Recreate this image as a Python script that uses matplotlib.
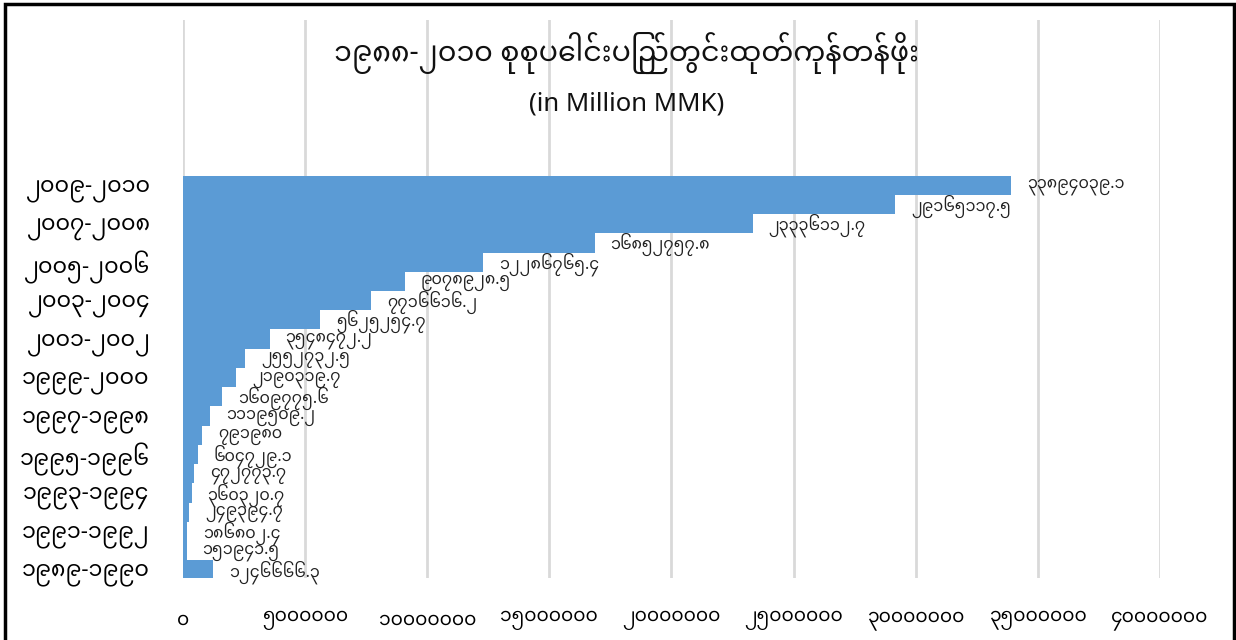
import matplotlib
matplotlib.use("Agg")
import matplotlib.pyplot as plt
from matplotlib.patches import Rectangle

# Burmese digits
MY = str.maketrans("0123456789", "၀၁၂၃၄၅၆၇၈၉")

def my(s):
    return str(s).translate(MY)

# data, 1989-90 .. 2009-10 (bottom to top)
years = ["1989-1990", "1990-1991", "1991-1992", "1992-1993", "1993-1994",
         "1994-1995", "1995-1996", "1996-1997", "1997-1998", "1998-1999",
         "1999-2000", "2000-2001", "2001-2002", "2002-2003", "2003-2004",
         "2004-2005", "2005-2006", "2006-2007", "2007-2008", "2008-2009",
         "2009-2010"]
gdp = [1246666.3, 151941.5, 186802.4, 249394.7, 360320.7,
       472773.7, 604729.1, 791980, 1119509.2, 1609775.6,
       2190319.7, 2552732.5, 3548472.2, 5625254.7, 7716616.2,
       9078928.5, 12286765.4, 16852757.8, 23336112.7, 29165117.5,
       33894039.1]
xticks = [0, 5000000, 10000000, 15000000, 20000000, 25000000,
          30000000, 35000000, 40000000]

title = "၁၉၈၈-၂၀၁၀ စုစုပေါင်းပြည်တွင်းထုတ်ကုန်တန်ဖိုး"
subtitle = "(in Million MMK)"

fam = ["Noto Sans", "Noto Sans Myanmar"]
plt.rcParams["font.family"] = fam

fig = plt.figure(figsize=(12.36, 6.4), dpi=100)
ax = fig.add_axes([0.148, 0.097, 0.7905, 0.872])

ypos = list(range(len(years)))
ax.barh(ypos, gdp, height=1.0, color="#5b9bd5", zorder=2)

for y, v in zip(ypos, gdp):
    txt = my("%d" % v if v == int(v) else "%.1f" % v)
    ax.text(v + 650000, y - 0.1, txt, va="center", ha="left",
            fontsize=11.5, color="#222222", zorder=3)

ax.set_xlim(0, 40000000)
ax.set_ylim(-0.42, 28.6)
ax.set_xticks(xticks)
ax.set_xticklabels([my(t) for t in xticks], fontsize=13.5)
ax.set_yticks(ypos[::2])
ax.set_yticklabels([my(years[i]) for i in ypos[::2]], fontsize=16)
ax.tick_params(axis="x", length=0, pad=24)
ax.tick_params(axis="y", length=0, pad=24)
ax.grid(axis="x", color="#d9d9d9", linewidth=2, zorder=0)
for s in ax.spines.values():
    s.set_visible(False)

fig.text(0.507, 0.918, title, ha="center", va="center", fontsize=20.5, color="#111111")
fig.text(0.507, 0.838, subtitle, ha="center", va="center", fontsize=18.5, color="#111111")

fig.patches.append(Rectangle((0.004, -0.01), 0.994, 1.004, transform=fig.transFigure,
                             fill=False, edgecolor="black", linewidth=2.5))

fig.savefig("out.png", dpi=100)
